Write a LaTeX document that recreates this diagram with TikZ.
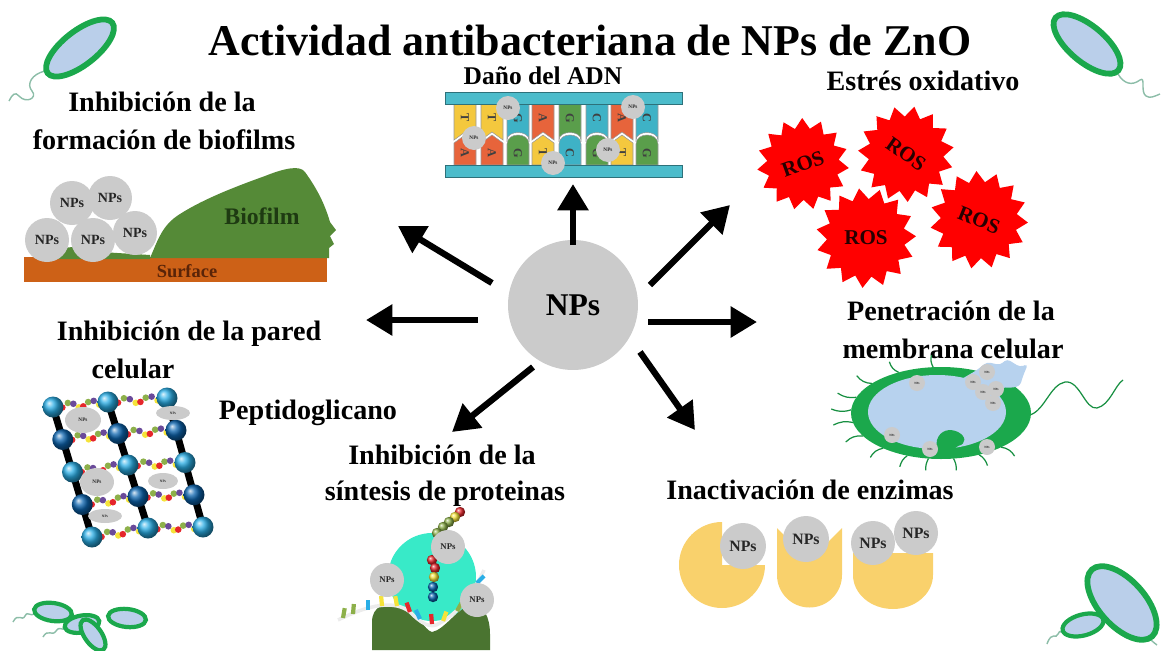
\documentclass[tikz,border=0pt]{standalone}
\usepackage{fontspec}
\setmainfont{Liberation Serif}
\usetikzlibrary{arrows.meta,shapes.geometric,calc}

\definecolor{npgray}{HTML}{CBCBCB}
\definecolor{dnabar}{HTML}{4CBCCB}
\definecolor{dnaY}{HTML}{F4C83E}
\definecolor{dnaO}{HTML}{E7643B}
\definecolor{dnaT}{HTML}{3EB2C6}
\definecolor{dnaG}{HTML}{5A9E4B}
\definecolor{rosred}{HTML}{FF0000}
\definecolor{soil}{HTML}{CD6117}
\definecolor{soiltext}{HTML}{5A2408}
\definecolor{filmgreen}{HTML}{558A37}
\definecolor{filmtext}{HTML}{1E3A12}
\definecolor{ballL}{HTML}{2AAEE6}
\definecolor{ballD}{HTML}{0C65B0}
\definecolor{pgR}{HTML}{E5262B}
\definecolor{pgG}{HTML}{8DB04A}
\definecolor{pgP}{HTML}{6A4A9A}
\definecolor{pgY}{HTML}{F5E33A}
\definecolor{ribo}{HTML}{4A7430}
\definecolor{tunnel}{HTML}{38EAC8}
\definecolor{enz}{HTML}{F9D16C}
\definecolor{cellgreen}{HTML}{1BA84C}
\definecolor{cellblue}{HTML}{B7D2EE}
\definecolor{bactblue}{HTML}{BACFEA}
\definecolor{tailcol}{HTML}{8CBDA8}

\tikzset{
  lab/.style={font=\bfseries\fontsize{16}{19}\selectfont, anchor=base, inner sep=0pt},
  np/.style={circle, fill=npgray, inner sep=0pt, minimum size=#1},
  npt/.style={font=\bfseries\fontsize{#1}{#1}\selectfont, text=black!85},
  npell/.style={ellipse, fill=npgray, inner sep=0pt},
  bigarrow/.style={line width=3.6pt, -{Triangle[length=15pt,width=17pt]}},
  rostext/.style={font=\bfseries\fontsize{12}{12}\selectfont, text=black!85!red, inner sep=0pt},
  bact/.style={ellipse, draw=cellgreen, fill=bactblue, line width=3.3pt, inner sep=0pt},
  smallbact/.style={ellipse, draw=cellgreen, fill=bactblue, line width=2.4pt, inner sep=0pt},
  tail/.style={draw=tailcol, line width=0.8pt},
  flag/.style={draw=cellgreen!85!black, line width=0.7pt},
  pgrod/.style={line width=4pt, black},
  base/.style={font=\bfseries\fontsize{7}{7}\selectfont, text=black!75, rotate=-90, inner sep=0pt},
}

% a 15-pointed red starburst: centre x, centre y, outer radius, turn
\newcommand\rosburst[4]{%
  \fill[rosred, shift={(#1,#2)}] (#4:#3)
    \foreach \i in {1,...,29}{ -- ({#4+\i*12}:{mod(\i,2)==1 ? 0.78*#3 : #3}) } -- cycle;
}

\begin{document}
\begin{tikzpicture}[x=0.02cm, y=-0.02cm]
\useasboundingbox (0,0) rectangle (1161,650);

% ---------- title ----------
\node[anchor=base, inner sep=0pt, font=\bfseries\fontsize{25}{28}\selectfont] (title) at (590,55)
  {Actividad antibacteriana de NPs de ZnO};

% ---------- corner bacteria ----------
\draw[tail] (45,71) .. controls (32,74) and (26,84) .. (32,91) .. controls (38,98) and (26,104) .. (19,96) .. controls (15,91) and (12,95) .. (9,101);
\node[bact, minimum width=1.64cm, minimum height=0.68cm, rotate=38] (bTL) at (80,48) {};

\draw[tail] (1118,74) .. controls (1124,84) and (1132,86) .. (1140,80) .. controls (1146,76) and (1140,92) .. (1146,96) .. controls (1150,99) and (1155,96) .. (1160,94);
\node[bact, minimum width=1.64cm, minimum height=0.72cm, rotate=-40] (bTR) at (1087,44) {};

\draw[tail] (1047,644) .. controls (1052,630) and (1056,640) .. (1058,634) .. controls (1060,628) and (1062,636) .. (1066,630);
\draw[tail] (1147,633) .. controls (1150,640) and (1153,642) .. (1157,645);
\node[bact, minimum width=1.8cm, minimum height=0.92cm, rotate=-48] (bBR) at (1122,603) {};
\node[smallbact, minimum width=0.84cm, minimum height=0.42cm, rotate=15] (bBRs) at (1083,625) {};

\draw[tail] (13,622) .. controls (18,612) and (22,622) .. (25,616) .. controls (28,610) and (30,618) .. (35,613);
\draw[tail] (43,637) .. controls (48,628) and (52,637) .. (56,631) .. controls (60,625) and (62,632) .. (68,628);
\node[smallbact, minimum width=0.76cm, minimum height=0.36cm, rotate=-8] (bBL1) at (53,612) {};
\node[smallbact, minimum width=0.7cm, minimum height=0.34cm, rotate=10] (bBL2) at (82,624) {};
\node[smallbact, minimum width=0.72cm, minimum height=0.34cm, rotate=-55] (bBL3) at (93,635) {};
\node[smallbact, minimum width=0.76cm, minimum height=0.36cm, rotate=-6] (bBL4) at (127,618) {};

% ---------- centre and arrows ----------
\node[np=2.6cm, font=\bfseries\fontsize{18}{18}\selectfont] (core) at (573,305) {NPs};

\coordinate (aNs) at (573,245);  \coordinate (aNe) at (573,184);
\coordinate (aNEs) at (650,285); \coordinate (aNEe) at (730,205);
\coordinate (aEs) at (648,322);  \coordinate (aEe) at (757,322);
\coordinate (aSEs) at (640,352); \coordinate (aSEe) at (695,430);
\coordinate (aSWs) at (533,367); \coordinate (aSWe) at (452,432);
\coordinate (aWs) at (478,320);  \coordinate (aWe) at (366,320);
\coordinate (aNWs) at (492,283); \coordinate (aNWe) at (398,226);
\draw[bigarrow] (aNs) -- (aNe);
\draw[bigarrow] (aNEs) -- (aNEe);
\draw[bigarrow] (aEs) -- (aEe);
\draw[bigarrow] (aSEs) -- (aSEe);
\draw[bigarrow] (aSWs) -- (aSWe);
\draw[bigarrow] (aWs) -- (aWe);
\draw[bigarrow] (aNWs) -- (aNWe);

% ---------- DNA damage ----------
\node[lab, font=\bfseries\fontsize{14.5}{17}\selectfont] (tDNA) at (543,84) {Daño del ADN};
\foreach \x/\c/\l in {465/dnaY/T,492/dnaY/T,543/dnaO/A,622/dnaO/A}{
  \filldraw[fill=\c, draw=black!40, line width=0.3pt] ({\x-11},104) -- ({\x+11},104) -- ({\x+11},140) -- (\x,132) -- ({\x-11},140) -- cycle;
  \node[base] at (\x,118) {\l};
}
\foreach \x/\c/\l in {518/dnaT/G,570/dnaG/G,597/dnaT/C,647/dnaT/C}{
  \filldraw[fill=\c, draw=black!40, line width=0.3pt] ({\x-11},104) -- ({\x+11},104) -- ({\x+11},140) .. controls ({\x+11},130) and ({\x-11},130) .. ({\x-11},140) -- cycle;
  \node[base] at (\x,118) {\l};
}
\foreach \x/\c/\l in {465/dnaO/A,492/dnaO/A,543/dnaY/T,622/dnaY/T}{
  \filldraw[fill=\c, draw=black!40, line width=0.3pt] ({\x-11},165) -- ({\x+11},165) -- ({\x+11},143) -- (\x,135) -- ({\x-11},143) -- cycle;
  \node[base] at (\x,153) {\l};
}
\foreach \x/\c/\l in {518/dnaG/G,570/dnaT/C,597/dnaG/G,647/dnaG/G}{
  \filldraw[fill=\c, draw=black!40, line width=0.3pt] ({\x-11},165) -- ({\x+11},165) -- ({\x+11},144) .. controls ({\x+11},132) and ({\x-11},132) .. ({\x-11},144) -- cycle;
  \node[base] at (\x,153) {\l};
}
\filldraw[fill=dnabar, draw=dnabar!60!black, line width=0.4pt] (445,92) rectangle (682,104);
\filldraw[fill=dnabar, draw=dnabar!60!black, line width=0.4pt] (445,165) rectangle (682,177);
\node[np=0.48cm, npt=3] (d1) at (508,108) {NPs};
\node[np=0.48cm, npt=3] (d2) at (474,138) {NPs};
\node[np=0.48cm, npt=3] (d3) at (553,163) {NPs};
\node[np=0.48cm, npt=3] (d4) at (633,107) {NPs};
\node[np=0.48cm, npt=3] (d5) at (608,150) {NPs};

% ---------- oxidative stress ----------
\node[lab] (tROS) at (923,90) {Estrés oxidativo};
\rosburst{803}{164}{46}{5}
\rosburst{906}{154}{48}{-8}
\rosburst{979}{220}{49}{3}
\rosburst{866}{238}{50}{-2}
\node[rostext, rotate=20] (rosT1) at (803,164) {ROS};
\node[rostext, rotate=-35] (rosT2) at (906,154) {ROS};
\node[rostext, rotate=-22] (rosT4) at (979,220) {ROS};
\node[rostext] (rosT3) at (866,238) {ROS};

% ---------- biofilm ----------
\node[lab] (tBio1) at (162,111) {Inhibición de la};
\node[lab] (tBio2) at (164,149) {formación de biofilms};
\fill[soil] (24,257) rectangle (327,282);
\fill[filmgreen] (55,259) .. controls (60,246) and (75,244) .. (85,251) -- (150,255) -- (150,259) -- cycle;
\fill[filmgreen] (150,258) .. controls (158,240) and (162,225) .. (180,214) .. controls (205,198) and (240,185) .. (265,176)
  .. controls (285,168) and (300,165) .. (305,172) .. controls (318,190) and (325,205) .. (330,222) -- (336,230) -- (330,236)
  -- (334,244) -- (329,248) -- (329,258) -- cycle;
\node[font=\bfseries\fontsize{13.5}{14}\selectfont, text=filmtext] (tFilm) at (262,216) {Biofilm};
\node[font=\bfseries\fontsize{10.5}{11}\selectfont, text=soiltext] (tSurf) at (187,271) {Surface};
\node[np=0.88cm, npt=8] (b4) at (72,203) {NPs};
\node[np=0.88cm, npt=8] (b5) at (110,198) {NPs};
\node[np=0.88cm, npt=8] (b1) at (47,240) {NPs};
\node[np=0.88cm, npt=8] (b2) at (93,240) {NPs};
\node[np=0.88cm, npt=8] (b3) at (135,233) {NPs};

% ---------- cell wall / peptidoglycan ----------
\node[lab] (tWall1) at (189,340) {Inhibición de la pared};
\node[lab] (tWall2) at (133,378) {celular};
\node[lab] (tPep) at (308,419) {Peptidoglicano};
\coordinate (c1-t) at (53,407);  \coordinate (c1-b) at (92,537);
\coordinate (c2-t) at (108,402); \coordinate (c2-b) at (148,528);
\coordinate (c3-t) at (167,398); \coordinate (c3-b) at (203,527);
\draw[pgrod] (c1-t) -- (c1-b);
\draw[pgrod] (c2-t) -- (c2-b);
\draw[pgrod] (c3-t) -- (c3-b);
\foreach \k in {0,0.25,0.5,0.75,1}{
  \foreach \p/\q in {c1/c2,c2/c3}{
    \coordinate (L) at ($(\p-t)!\k!(\p-b)$);
    \coordinate (R) at ($(\q-t)!\k!(\q-b)$);
    \foreach \j/\c in {0.17/pgR,0.27/pgG,0.37/pgP,0.47/pgY,0.55/pgR,0.64/pgG,0.74/pgP,0.84/pgY}{
      \fill[\c] ($(L)!\j!(R)$) ++(0,{3*sin(\j*900)}) circle[radius=3.3];
    }
  }
}
\foreach \p in {c1,c2,c3}{
  \foreach \k/\c in {0/ballL,0.25/ballD,0.5/ballL,0.75/ballD,1/ballL}{
    \shade[ball color=\c] ($(\p-t)!\k!(\p-b)$) circle[radius=10.5];
  }
}
\node[npell, minimum width=0.72cm, minimum height=0.52cm, npt=3] (pg1) at (83,420) {NPs};
\node[npell, minimum width=0.68cm, minimum height=0.28cm, npt=2] (pg2) at (173,413) {NPs};
\node[npell, minimum width=0.68cm, minimum height=0.56cm, npt=3] (pg3) at (97,482) {NPs};
\node[npell, minimum width=0.6cm, minimum height=0.32cm, npt=2] (pg4) at (163,481) {NPs};
\node[npell, minimum width=0.68cm, minimum height=0.28cm, npt=2] (pg5) at (105,516) {NPs};

% ---------- protein synthesis ----------
\node[lab] (tProt1) at (442,464) {Inhibición de la};
\node[lab] (tProt2) at (445,500) {síntesis de proteinas};
\fill[tunnel] (432,577) circle[radius=44];
\fill[ribo] (372,650) -- (372,622) .. controls (372,606) and (386,601) .. (400,606) .. controls (418,612) and (424,630) .. (432,632)
  .. controls (444,630) and (456,610) .. (470,605) .. controls (484,603) and (490,618) .. (490,634) -- (490,650) -- cycle;
\draw[white!85!gray, line width=2pt] (338,620) .. controls (370,604) and (395,600) .. (410,612) .. controls (420,622) and (430,630) .. (440,623) .. controls (460,612) and (475,590) .. (484,570);
\foreach \x/\y/\a/\c in {343/618/-80/pgG,353/614/-85/pgG,368/610/-90/ballL,382/606/-95/pgY,397/606/-100/pgY,410/612/-110/pgR,
                         420/619/-115/ballL,432/624/-95/pgR,443/621/-70/pgY,457/611/-60/pgG,467/600/-55/pgG,477/583/-45/ballL}{
  \draw[\c, line width=2.4pt] (\x,\y) -- ++(\a:10);
}
\foreach \x/\y/\c in {460/512/pgR,455/517/pgY,449/522/pgG,443/527/pgG,437/533/pgG,432/560/pgR,435/568/pgR,434/577/pgY,433/587/ballD,433/597/ballD}{
  \shade[ball color=\c] (\x,\y) circle[radius=5.2];
}
\node[np=0.68cm, npt=5] (p1) at (448,547) {NPs};
\node[np=0.68cm, npt=5] (p2) at (387,580) {NPs};
\node[np=0.68cm, npt=5] (p3) at (477,600) {NPs};

% ---------- membrane penetration ----------
\node[lab] (tMem1) at (951,320) {Penetración de la};
\node[lab] (tMem2) at (953,358) {membrana celular};
\foreach \a/\b in {95/20,118/25,140/25,160/20,176/20,192/-20,210/-25,230/-25,248/-20,262/-15,278/15,295/20,312/25}{
  \draw[flag] ({941+90*cos(\a)},{413-46*sin(\a)}) to[bend left=\b] ({941+110*cos(\a)},{413-58*sin(\a)});
}
\draw[flag] (1030,415) .. controls (1045,410) and (1050,385) .. (1065,382) .. controls (1080,380) and (1085,410) .. (1097,408)
  .. controls (1110,405) and (1115,385) .. (1123,380);
\fill[cellgreen] (941,413) ellipse[x radius=90, y radius=46];
\fill[cellblue] (937,412) ellipse[x radius=69, y radius=37];
\fill[cellblue, rounded corners=2pt] (960,380) -- (977,370) -- (987,362) -- (1000,365) -- (1007,359) -- (1020,367) -- (1028,364)
  -- (1023,376) -- (1020,386) -- (1010,388) -- (1002,387) -- (1000,398) -- (975,400) -- cycle;
\fill[cellgreen] (935,456) -- (937,440) .. controls (940,430) and (950,428) .. (958,432) .. controls (966,436) and (967,444) .. (958,446) -- (950,452) -- cycle;
\foreach \x/\y [count=\n] in {917/383,973/382,987/372,983/392,996/389,993/403,892/435,930/449,987/447}{
  \node[np=0.32cm, npt=1.8] (m\n) at (\x,\y) {NPs};
}

% ---------- enzyme inactivation ----------
\node[lab] (tEnz) at (810,499) {Inactivación de enzimas};
\fill[enz] (722,565) -- ++(0:43) arc[start angle=0, end angle=270, radius=43] -- cycle;
\fill[enz] (777,528) -- (809,561) -- (842,528) -- (842,575) arc[start angle=0, end angle=180, radius=32.5] -- cycle;
\fill[enz] (853,553) -- (933,553) -- (933,575) arc[start angle=0, end angle=180, x radius=40, y radius=34] -- cycle;
\node[np=0.92cm, npt=9] (e1) at (743,546) {NPs};
\node[np=0.92cm, npt=9] (e2) at (806,539) {NPs};
\node[np=0.88cm, npt=9] (e3) at (873,543) {NPs};
\node[np=0.88cm, npt=9] (e4) at (916,533) {NPs};

\end{tikzpicture}
\end{document}
